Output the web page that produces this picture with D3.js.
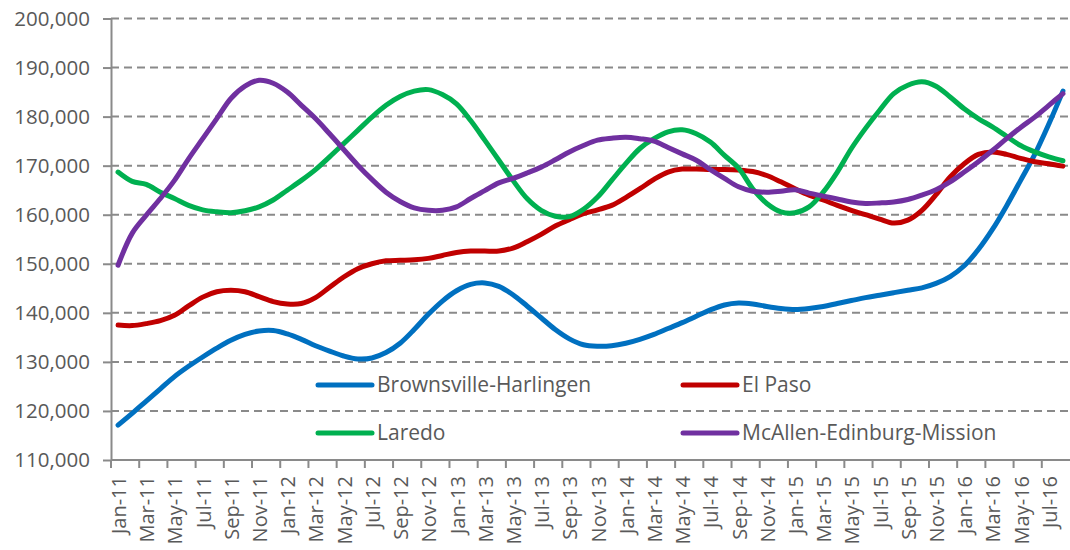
<!DOCTYPE html>
<html>
<head>
<meta charset="utf-8">
<script src="https://cdn.jsdelivr.net/npm/d3@7"></script>
<style>
  html, body { margin: 0; padding: 0; background: #fff; }
  svg { display: block; }
</style>
</head>
<body>
<svg id="chart" width="1070" height="550"></svg>
<script>
const months = ["Jan","Feb","Mar","Apr","May","Jun","Jul","Aug","Sep","Oct","Nov","Dec"];
const categories = [];
for (let yr = 11; yr <= 16; yr++) {
  for (let m = 0; m < 12; m++) {
    if (yr === 16 && m > 7) break;
    categories.push(months[m] + "-" + yr);
  }
}

const brownsville = [117.1,119.5,122.0,124.5,127.0,129.1,131.0,132.8,134.4,135.6,136.3,136.4,
  135.7,134.6,133.3,132.2,131.2,130.6,130.8,131.9,133.8,136.6,139.7,142.4,
  144.5,145.8,146.1,145.4,143.7,141.4,139.0,136.6,134.7,133.5,133.2,133.3,
  133.8,134.6,135.6,136.8,138.0,139.3,140.6,141.6,142.0,141.8,141.3,140.9,
  140.7,140.9,141.3,141.9,142.5,143.1,143.6,144.1,144.6,145.1,146.0,147.4,
  149.6,152.9,157.0,161.8,167.0,172.3,178.5,185.2];
const elPaso = [137.5,137.4,137.8,138.4,139.5,141.4,143.2,144.3,144.6,144.3,143.3,142.3,
  141.8,141.9,143.1,145.2,147.3,149.0,150.0,150.6,150.7,150.8,151.1,151.7,
  152.3,152.6,152.6,152.6,153.2,154.5,156.0,157.7,159.0,160.2,161.0,161.9,
  163.5,165.3,167.2,168.7,169.3,169.3,169.2,169.2,169.1,168.8,168.0,166.7,
  165.3,164.0,163.0,161.9,160.9,160.0,159.1,158.3,158.9,160.9,164.1,167.7,
  170.4,172.3,172.8,172.3,171.5,170.8,170.4,169.9];
const laredo = [168.7,166.8,166.2,164.6,163.3,161.9,161.0,160.6,160.4,160.8,161.6,163.0,
  165.0,167.0,169.2,171.8,174.5,177.2,179.9,182.3,184.1,185.2,185.5,184.5,
  182.6,179.2,175.2,171.1,167.0,163.3,160.9,159.7,159.6,161.1,163.6,167.0,
  170.4,173.5,175.5,176.9,177.3,176.5,174.8,172.1,169.5,165.3,162.3,160.6,
  160.4,161.6,164.6,168.7,173.5,177.6,181.3,184.7,186.4,187.1,186.2,184.0,
  181.6,179.6,177.9,176.0,174.1,172.8,171.8,171.0];
const mcallen = [149.7,156.2,159.9,163.3,167.0,171.4,175.5,179.6,183.7,186.2,187.4,186.8,
  185.0,182.3,179.6,176.5,173.3,170.1,167.2,164.6,162.7,161.4,160.9,160.9,
  161.6,163.3,164.9,166.5,167.4,168.5,169.7,171.2,172.8,174.1,175.2,175.6,
  175.8,175.5,175.0,173.7,172.4,171.1,169.2,167.4,165.7,164.8,164.6,164.8,
  165.1,164.4,163.8,163.2,162.6,162.3,162.4,162.6,163.1,164.0,165.1,166.7,
  168.7,170.8,173.1,175.5,177.8,179.9,182.3,184.7];

const seriesNames = ["Brownsville-Harlingen","El Paso","Laredo","McAllen-Edinburg-Mission"];
const seriesValues = [brownsville, elPaso, laredo, mcallen];
const seriesColors = ["#0070C0","#C00000","#00B050","#7030A0"];
const yTicks = [110000,120000,130000,140000,150000,160000,170000,180000,190000,200000];

const svg = d3.select("#chart");
const mLeft = 111, mRight = 1070, mTop = 18.5, mBottom = 460;
const font = "'Open Sans', sans-serif";
const textColor = "#595959";
const axisColor = "#8a8a8a";

const x = d3.scaleBand().domain(categories).range([mLeft, mRight]).padding(0);
const y = d3.scaleLinear().domain([110000, 200000]).range([mBottom, mTop]);

// gridlines
svg.append("g").selectAll("line")
  .data(yTicks.filter(t => t > 110000))
  .join("line")
  .attr("x1", mLeft).attr("x2", mRight)
  .attr("y1", d => y(d)).attr("y2", d => y(d))
  .attr("stroke", axisColor).attr("stroke-width", 2)
  .attr("stroke-dasharray", "8,5");

// y axis
const yAxis = svg.append("g")
  .attr("transform", `translate(${mLeft},0)`)
  .call(d3.axisLeft(y).tickValues(yTicks).tickFormat(d3.format(",")).tickSize(8).tickSizeOuter(0).tickPadding(13));
yAxis.select(".domain").attr("stroke", axisColor).attr("stroke-width", 2);
yAxis.selectAll(".tick line").attr("stroke", axisColor).attr("stroke-width", 2);
yAxis.selectAll(".tick text").attr("fill", textColor).style("font-family", font).style("font-size", "20.5px");

// x axis
const xAxisG = svg.append("g");
xAxisG.append("line")
  .attr("x1", mLeft).attr("x2", mRight).attr("y1", mBottom).attr("y2", mBottom)
  .attr("stroke", axisColor).attr("stroke-width", 2);
const evenCats = categories.filter((c, i) => i % 2 === 0);
xAxisG.selectAll("line.tick")
  .data(evenCats)
  .join("line")
  .attr("class", "tick")
  .attr("x1", d => x(d)).attr("x2", d => x(d))
  .attr("y1", mBottom).attr("y2", mBottom + 8)
  .attr("stroke", axisColor).attr("stroke-width", 2);
xAxisG.selectAll("text")
  .data(evenCats)
  .join("text")
  .attr("transform", d => `translate(${x(d) + x.bandwidth() / 2 + 1},${mBottom + 16}) rotate(-90)`)
  .attr("text-anchor", "end")
  .attr("dy", "0.35em")
  .attr("fill", textColor)
  .style("font-family", font)
  .style("font-size", "20px")
  .text(d => d);

// lines
const line = d3.line()
  .x((d, i) => x(categories[i]) + x.bandwidth() / 2)
  .y(d => y(d * 1000))
  .curve(d3.curveCatmullRom.alpha(0.5));

svg.append("g").selectAll("path")
  .data(seriesValues)
  .join("path")
  .attr("d", d => line(d))
  .attr("fill", "none")
  .attr("stroke", (d, i) => seriesColors[i])
  .attr("stroke-width", 5)
  .attr("stroke-linejoin", "round")
  .attr("stroke-linecap", "round");

// legend
const legendPos = [[318, 385], [683, 385], [318, 433], [683, 433]];
const lg = svg.append("g").selectAll("g")
  .data(seriesNames)
  .join("g")
  .attr("transform", (d, i) => `translate(${legendPos[i][0]},${legendPos[i][1]})`);
lg.append("line")
  .attr("x1", 0).attr("x2", 54).attr("y1", 0).attr("y2", 0)
  .attr("stroke", (d, i) => seriesColors[i])
  .attr("stroke-width", 5).attr("stroke-linecap", "round");
lg.append("text")
  .attr("x", 59).attr("y", 0).attr("dy", "0.35em")
  .attr("fill", textColor)
  .style("font-family", font).style("font-size", "21px")
  .text(d => d);
</script>
</body>
</html>
